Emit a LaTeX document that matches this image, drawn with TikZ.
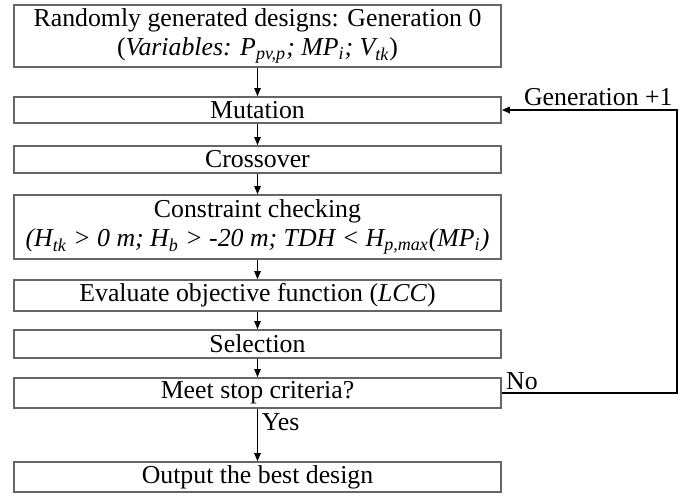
\documentclass[tikz,border=0pt]{standalone}
\usepackage{fontspec}
\setmainfont{Liberation Serif}
\usetikzlibrary{arrows.meta}
\begin{document}
\begin{tikzpicture}[x=0.5pt,y=-0.5pt,
  box/.style={draw=black!60,line width=0.8pt,minimum width=243.5pt,
    inner sep=0pt,align=center,font=\fontsize{12.9}{14.5}\selectfont},
  flow/.style={-{Triangle[length=4pt,width=3.2pt]},line width=0.6pt},
  lbl/.style={inner sep=0pt,font=\fontsize{12.9}{14.5}\selectfont}]
  \useasboundingbox (0,0) rectangle (697,495);
  \node[box,minimum height=31pt] (gen0) at (257.5,36)
    {Randomly generated designs: Generation 0\\
    (\textit{Variables: P\textsubscript{pv,p}; MP\textsubscript{i}; V\textsubscript{tk}})};
  \node[box,minimum height=13pt] (mut) at (257.5,110) {Mutation};
  \node[box,minimum height=13.5pt] (cross) at (257.5,159.5) {Crossover};
  \node[box,minimum height=32pt] (cons) at (257.5,227)
    {Constraint checking\\
    \textit{(H\textsubscript{tk} > 0 m; H\textsubscript{b} > -20 m; TDH < H\textsubscript{p,max}(MP\textsubscript{i})}};
  \node[box,minimum height=15.5pt] (eval) at (257.5,295.5)
    {Evaluate objective function (\textit{LCC})};
  \node[box,minimum height=14pt] (sel) at (257.5,344) {Selection};
  \node[box,minimum height=15pt] (stop) at (257.5,393) {Meet stop criteria?};
  \node[box,minimum height=15pt] (best) at (257.5,477) {Output the best design};
  \coordinate (corner) at (677,393);
  \draw[flow] (gen0) -- (mut);
  \draw[flow] (mut) -- (cross);
  \draw[flow] (cross) -- (cons);
  \draw[flow] (cons) -- (eval);
  \draw[flow] (eval) -- (sel);
  \draw[flow] (sel) -- (stop);
  \draw[flow] (stop) -- (best);
  \draw[flow,line width=0.9pt] (stop.east) -- (corner) |- (mut.east);
  \node[lbl,anchor=south west] (no) at ([xshift=2pt,yshift=1.2pt]stop.east) {No};
  \node[lbl,anchor=south east] (next) at ([xshift=-2pt,yshift=2pt]corner |- mut.east)
    {Generation +1};
  \node[lbl,anchor=north west] (yes) at ([xshift=2pt,yshift=-2pt]stop.south) {Yes};
\end{tikzpicture}
\end{document}
